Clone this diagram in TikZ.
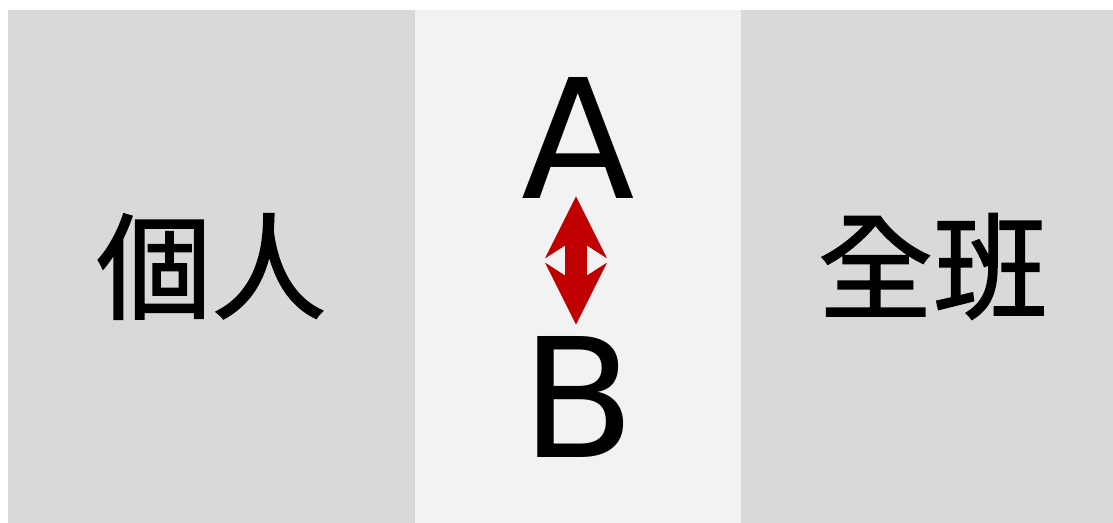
\documentclass[tikz,border=0pt]{standalone}
\usepackage{fontspec}
\newfontfamily\cjk[FakeBold=1.5]{Noto Sans CJK TC}
\newfontfamily\latinsans{DejaVu Sans}
\usetikzlibrary{arrows.meta}
\definecolor{panelgray}{HTML}{D9D9D9}
\definecolor{panellight}{HTML}{F2F2F2}
\definecolor{arrowred}{HTML}{C00000}
\tikzset{
  cjklabel/.style={font=\cjk\fontsize{57.5}{60}\selectfont, inner sep=0pt, anchor=base},
  letter/.style={font=\latinsans\fontsize{83}{86}\selectfont, inner sep=0pt, anchor=base},
  bighead/.style={arrows={Stealth[length=31pt, width=31pt, inset=10pt, line width=0pt]-Stealth[length=31pt, width=31pt, inset=10pt, line width=0pt]}},
}
\begin{document}
\begin{tikzpicture}[x=0.5pt, y=-0.5pt]
    \useasboundingbox (0,0) rectangle (1113,523);
    \fill[white] (0,0) rectangle (1113,523);

    % Paneles
    \fill[panelgray] (8,10) rectangle (415,523);
    \fill[panellight] (415,10) rectangle (741,523);
    \fill[panelgray] (741,10) rectangle (1113,523);

    % Textos
    \node[cjklabel] (indiv) at (211.5,310) {個人};
    \node[cjklabel] (clase) at (933,310) {全班};
    \node[letter] (A) at (578,199) {A};
    \node[letter] (B) at (578,458) {B};

    % Flecha doble
    \draw[arrowred, line width=11pt, bighead, shorten <=-1.5pt, shorten >=6pt]
        ([xshift=-1pt]A.south) -- ([xshift=-1pt]B.north);
\end{tikzpicture}
\end{document}
